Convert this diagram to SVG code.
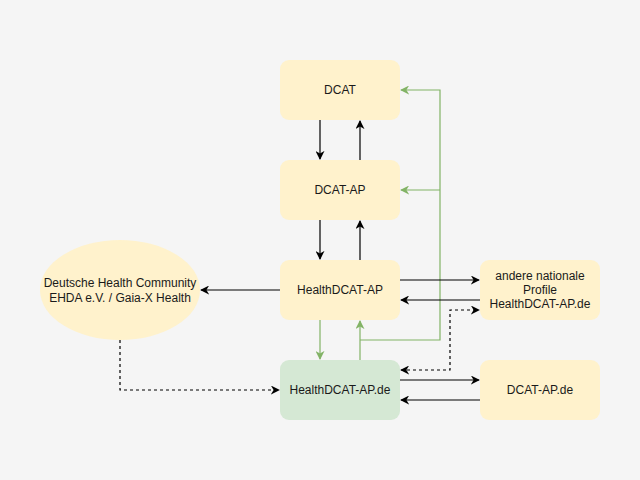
<svg xmlns="http://www.w3.org/2000/svg" width="640" height="480" viewBox="0 0 640 480">
<defs>
<style>
.box{fill:#fff2cc;stroke:none}
.green{fill:#d5e8d4;stroke:none}
.lbl{font-family:"Liberation Sans",Arial,sans-serif;font-size:12px;fill:#1a1a1a;text-anchor:middle}
.c{fill:none;stroke:#000;stroke-width:1.2}
.g{fill:none;stroke:#82b366;stroke-width:1.2}
.d{stroke-dasharray:3,3}
</style>
<marker id="ab" viewBox="0 0 10 10" refX="9" refY="5" markerWidth="9" markerHeight="9" markerUnits="userSpaceOnUse" orient="auto-start-reverse">
<path d="M0,0 L10,5 L0,10 L3,5 Z" fill="#000"/>
</marker>
<marker id="ag" viewBox="0 0 10 10" refX="9" refY="5" markerWidth="9" markerHeight="9" markerUnits="userSpaceOnUse" orient="auto-start-reverse">
<path d="M0,0 L10,5 L0,10 L3,5 Z" fill="#82b366"/>
</marker>
</defs>
<rect width="640" height="480" fill="#f5f5f5"/>
<g id="connectors">
<path class="c" d="M320,120 V159" marker-end="url(#ab)"/>
<path class="c" d="M360,160 V121" marker-end="url(#ab)"/>
<path class="c" d="M320,220 V259" marker-end="url(#ab)"/>
<path class="c" d="M360,260 V221" marker-end="url(#ab)"/>
<path class="g" d="M320,320 V359" marker-end="url(#ag)"/>
<path class="g" d="M360,360 V321" marker-end="url(#ag)"/>
<path class="g" d="M360,340 H440 V90 H401" marker-end="url(#ag)"/>
<path class="g" d="M440,190 H401" marker-end="url(#ag)"/>
<path class="c" d="M400,280 H479" marker-end="url(#ab)"/>
<path class="c" d="M480,300 H401" marker-end="url(#ab)"/>
<path class="c d" d="M401,370 H450 V310 H479" marker-start="url(#ab)" marker-end="url(#ab)"/>
<path class="c" d="M400,380 H479" marker-end="url(#ab)"/>
<path class="c" d="M480,400 H401" marker-end="url(#ab)"/>
<path class="c" d="M280,290 H201" marker-end="url(#ab)"/>
<path class="c d" d="M120,340 V390 H279" marker-end="url(#ab)"/>
</g>
<g id="dcat"><rect class="box" x="280" y="60" width="120" height="60" rx="9"/><text class="lbl" x="340" y="94">DCAT</text></g>
<g id="dcat-ap"><rect class="box" x="280" y="160" width="120" height="60" rx="9"/><text class="lbl" x="340" y="194">DCAT-AP</text></g>
<g id="healthdcat-ap"><rect class="box" x="280" y="260" width="120" height="60" rx="9"/><text class="lbl" x="340" y="294">HealthDCAT-AP</text></g>
<g id="healthdcat-ap-de"><rect class="green" x="280" y="360" width="120" height="60" rx="9"/><text class="lbl" x="340" y="394">HealthDCAT-AP.de</text></g>
<g id="andere"><rect class="box" x="480" y="260" width="120" height="60" rx="9"/><text class="lbl" x="540" y="280">andere nationale</text><text class="lbl" x="540" y="294">Profile</text><text class="lbl" x="540" y="308">HealthDCAT-AP.de</text></g>
<g id="dcat-ap-de"><rect class="box" x="480" y="360" width="120" height="60" rx="9"/><text class="lbl" x="540" y="394">DCAT-AP.de</text></g>
<g id="community"><ellipse class="box" cx="120" cy="290" rx="80" ry="50"/><text class="lbl" x="120" y="287">Deutsche Health Community</text><text class="lbl" x="120" y="302">EHDA e.V. / Gaia-X Health</text></g>
</svg>
